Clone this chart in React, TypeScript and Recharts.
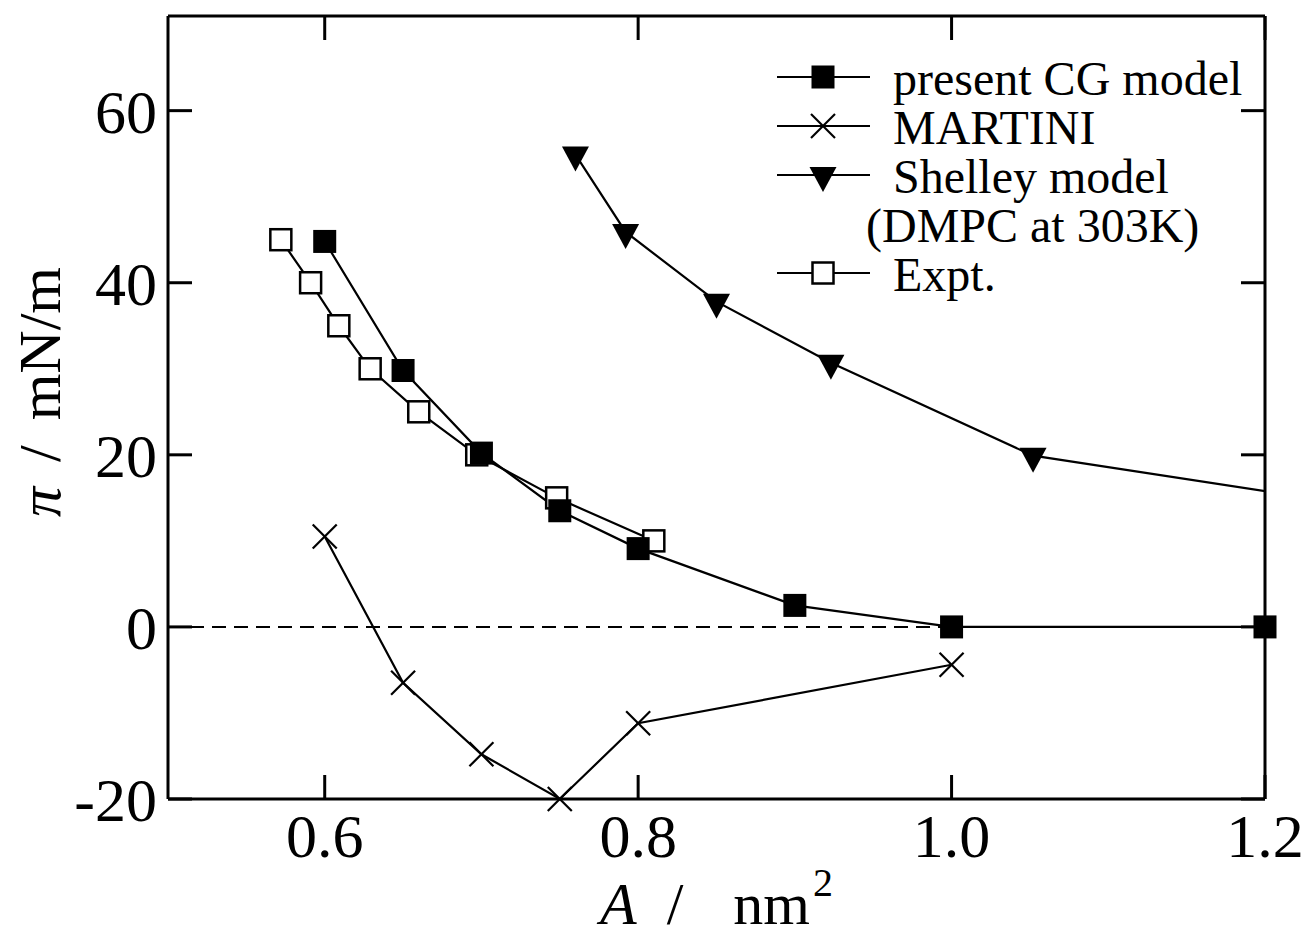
import React from "react";
import { LineChart, Line, XAxis, YAxis, ReferenceLine } from "recharts";

// surface pressure vs area per lipid
const xTicks = [0.6, 0.8, 1.0, 1.2];
const yTicks = [-20, 0, 20, 40, 60];

const cgArea = [0.6, 0.65, 0.7, 0.75, 0.8, 0.9, 1.0, 1.2];
const cgPressure = [44.8, 29.8, 20.2, 13.5, 9.1, 2.5, 0, 0];

const martiniArea = [0.6, 0.65, 0.7, 0.75, 0.8, 1.0];
const martiniPressure = [10.5, -6.5, -14.8, -20, -11.2, -4.4];

// last point lies beyond the frame and is clipped
const shelleyArea = [0.76, 0.792, 0.85, 0.923, 1.052, 1.3];
const shelleyPressure = [54.9, 45.9, 37.8, 30.7, 19.9, 13.0];

const exptArea = [0.572, 0.591, 0.609, 0.629, 0.66, 0.697, 0.748, 0.81];
const exptPressure = [45, 40, 35, 30, 25, 20, 15, 10];

const legendNames = ["present CG model", "MARTINI", "Shelley model", "Expt."];
const legendSubtitle = "(DMPC at 303K)";

const FONT = '"Liberation Serif", "Times New Roman", serif';
const zip = (xs: number[], ys: number[]) => xs.map((x, i) => ({ x, y: ys[i] }));

const cgData = zip(cgArea, cgPressure);
const martiniData = zip(martiniArea, martiniPressure);
const shelleyData = zip(shelleyArea, shelleyPressure);
const exptData = zip(exptArea, exptPressure);

const FilledSquare = ({ cx, cy }: any) => (
  <rect x={cx - 11.5} y={cy - 11.5} width={23} height={23} fill="#000" />
);
const OpenSquare = ({ cx, cy }: any) => (
  <rect x={cx - 10.5} y={cy - 10.5} width={21} height={21} fill="#fff" stroke="#000" strokeWidth={2.5} />
);
const Cross = ({ cx, cy }: any) => (
  <g stroke="#000" strokeWidth={2.2}>
    <line x1={cx - 12} y1={cy - 12} x2={cx + 12} y2={cy + 12} />
    <line x1={cx - 12} y1={cy + 12} x2={cx + 12} y2={cy - 12} />
  </g>
);
const DownTriangle = ({ cx, cy }: any) => (
  <polygon points={`${cx - 13.5},${cy - 8} ${cx + 13.5},${cy - 8} ${cx},${cy + 17}`} fill="#000" />
);

const dotWith = (Shape: any) => (props: any) => (
  <Shape key={`d-${props.index}`} cx={props.cx} cy={props.cy} />
);

const emptyTick = () => <g />;
const axisStroke = { stroke: "#000", strokeWidth: 3 };
const tickStyle = { fill: "#000", fontSize: 62, fontFamily: FONT };

function XTitle(props: any) {
  const vb = props.viewBox;
  return (
    <text x={vb.x + vb.width / 2} y={924} textAnchor="middle" fontFamily={FONT} fontSize={60} fill="#000">
      <tspan fontStyle="italic">A</tspan>
      <tspan dx={30}>/</tspan>
      <tspan dx={50}>nm</tspan>
      <tspan dx={3} dy={-28} fontSize={40}>2</tspan>
    </text>
  );
}

function YTitle() {
  return (
    <text
      transform="translate(60, 392) rotate(-90)"
      textAnchor="middle"
      fontFamily={FONT}
      fontSize={60}
      fill="#000"
    >
      <tspan fontStyle="italic">π</tspan>
      <tspan dx={25}>/</tspan>
      <tspan dx={25}>mN/m</tspan>
    </text>
  );
}

const legendMarkers = [FilledSquare, Cross, DownTriangle, OpenSquare];
const legendRows = [77, 126, 175, 273];

function LegendOverlay() {
  return (
    <svg
      width={1311}
      height={938}
      style={{ position: "absolute", left: 0, top: 0, pointerEvents: "none" }}
    >
      {legendNames.map((name, i) => {
        const cy = legendRows[i];
        const Marker = legendMarkers[i];
        return (
          <g key={name}>
            <line x1={777} x2={870} y1={cy} y2={cy} stroke="#000" strokeWidth={2.2} />
            <Marker cx={823} cy={cy} />
            <text x={893} y={cy + 18} fontFamily={FONT} fontSize={48} fill="#000">
              {name}
            </text>
          </g>
        );
      })}
      <text x={866} y={242} fontFamily={FONT} fontSize={48} fill="#000">
        {legendSubtitle}
      </text>
    </svg>
  );
}

export default function App() {
  return (
    <div style={{ position: "absolute", left: 0, top: 0, width: 1311, height: 938, background: "#fff" }}>
      <LineChart width={1311} height={938} margin={{ top: 15, right: 45, bottom: 0, left: 0 }}>
        <XAxis
          xAxisId="b"
          dataKey="x"
          type="number"
          domain={[0.5, 1.2]}
          ticks={xTicks}
          interval={0}
          height={139}
          tickSize={-24}
          tickMargin={38}
          tick={tickStyle}
          tickFormatter={(v: number) => v.toFixed(1)}
          axisLine={axisStroke}
          tickLine={axisStroke}
          label={<XTitle />}
        />
        <XAxis
          xAxisId="t"
          orientation="top"
          dataKey="x"
          type="number"
          domain={[0.5, 1.2]}
          ticks={xTicks}
          interval={0}
          allowDataOverflow
          height={1}
          tickSize={-24}
          tick={emptyTick}
          axisLine={axisStroke}
          tickLine={axisStroke}
        />
        <XAxis xAxisId="clip" dataKey="x" type="number" domain={[0.5, 1.2]} allowDataOverflow hide />
        <YAxis
          yAxisId="l"
          type="number"
          domain={[-20, 71]}
          ticks={yTicks}
          interval={0}
          width={168}
          tickSize={-24}
          tickMargin={35}
          tick={tickStyle}
          axisLine={axisStroke}
          tickLine={axisStroke}
          label={<YTitle />}
        />
        <YAxis
          yAxisId="r"
          orientation="right"
          type="number"
          domain={[-20, 71]}
          ticks={yTicks}
          interval={0}
          allowDataOverflow
          width={1}
          tickSize={-24}
          tick={emptyTick}
          axisLine={axisStroke}
          tickLine={axisStroke}
        />
        <ReferenceLine
          xAxisId="b"
          yAxisId="l"
          segment={[{ x: 0.5, y: 0 }, { x: 1.0, y: 0 }]}
          stroke="#000"
          strokeWidth={2}
          strokeDasharray="14 8"
        />
        <Line
          xAxisId="b"
          yAxisId="l"
          data={martiniData}
          dataKey="y"
          type="linear"
          stroke="#000"
          strokeWidth={2.2}
          dot={dotWith(Cross)}
          activeDot={false}
          isAnimationActive={false}
        />
        <Line
          xAxisId="clip"
          yAxisId="l"
          data={shelleyData}
          dataKey="y"
          type="linear"
          stroke="#000"
          strokeWidth={2.2}
          dot={dotWith(DownTriangle)}
          activeDot={false}
          isAnimationActive={false}
        />
        <Line
          xAxisId="b"
          yAxisId="l"
          data={exptData}
          dataKey="y"
          type="linear"
          stroke="#000"
          strokeWidth={2.2}
          dot={dotWith(OpenSquare)}
          activeDot={false}
          isAnimationActive={false}
        />
        <Line
          xAxisId="b"
          yAxisId="l"
          data={cgData}
          dataKey="y"
          type="linear"
          stroke="#000"
          strokeWidth={2.2}
          dot={dotWith(FilledSquare)}
          activeDot={false}
          isAnimationActive={false}
        />
      </LineChart>
      <LegendOverlay />
    </div>
  );
}
